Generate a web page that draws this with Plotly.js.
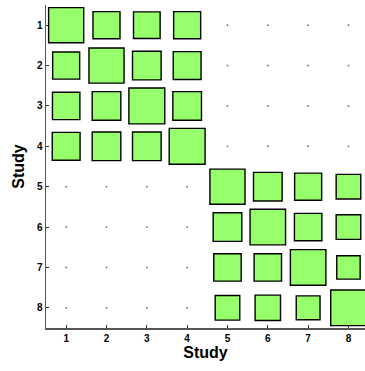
<!DOCTYPE html>
<html>
<head>
<meta charset="utf-8">
<script src="https://cdn.plot.ly/plotly-3.0.1.min.js"></script>
<style>
  html, body { margin: 0; padding: 0; background: #fff; }
  #chart { width: 365px; height: 371px; }
</style>
</head>
<body>
<div id="chart"></div>
<script>
// Study labels on both axes
const studies = [1, 2, 3, 4, 5, 6, 7, 8];
const tickLabels = ['1', '2', '3', '4', '5', '6', '7', '8'];

// Weight matrix: square side as a fraction of one cell (0 = no link, drawn as a dot)
const row1 = [0.87, 0.67, 0.66, 0.67, 0, 0, 0, 0];
const row2 = [0.67, 0.87, 0.71, 0.69, 0, 0, 0, 0];
const row3 = [0.68, 0.71, 0.89, 0.71, 0, 0, 0, 0];
const row4 = [0.69, 0.71, 0.71, 0.89, 0, 0, 0, 0];
const row5 = [0, 0, 0, 0, 0.87, 0.71, 0.67, 0.61];
const row6 = [0, 0, 0, 0, 0.71, 0.88, 0.68, 0.61];
const row7 = [0, 0, 0, 0, 0.68, 0.68, 0.88, 0.58];
const row8 = [0, 0, 0, 0, 0.61, 0.63, 0.59, 0.88];
const weights = [row1, row2, row3, row4, row5, row6, row7, row8];

const fillColor = '#96ff6b';

const shapes = [];
const dotX = [], dotY = [];
weights.forEach((row, i) => {
  row.forEach((w, j) => {
    const cx = studies[j], cy = studies[i];
    if (w > 0) {
      shapes.push({
        type: 'rect', xref: 'x', yref: 'y',
        x0: cx - w / 2, x1: cx + w / 2,
        y0: cy - w / 2, y1: cy + w / 2,
        fillcolor: fillColor,
        line: { color: '#000', width: 1.4 }
      });
    } else {
      dotX.push(cx);
      dotY.push(cy);
    }
  });
});

const dots = {
  type: 'scatter', mode: 'markers',
  x: dotX, y: dotY,
  marker: { symbol: 'square', size: 1.5, color: '#3d7a2a', line: { width: 0 } },
  hoverinfo: 'skip', showlegend: false
};

const tickFont = { family: 'Liberation Sans, Arial, sans-serif', size: 10, color: '#000' };
const titleFont = { family: 'Liberation Sans, Arial, sans-serif', size: 16, color: '#000' };

const axisCommon = {
  tickvals: studies,
  ticktext: tickLabels.map(t => '<b>' + t + '</b>'),
  ticks: 'inside', ticklen: 3, tickwidth: 1, tickcolor: '#333',
  showline: true, linecolor: '#555', linewidth: 1.5,
  showgrid: false, zeroline: false,
  tickfont: tickFont, fixedrange: true
};

const layout = {
  width: 365, height: 371,
  margin: { l: 46, r: 0, t: 5, b: 43 },
  paper_bgcolor: '#fff', plot_bgcolor: '#fff',
  showlegend: false,
  xaxis: Object.assign({}, axisCommon, {
    range: [0.5, 8.41],
    title: { text: '<b>Study</b>', font: titleFont, standoff: 4 }
  }),
  yaxis: Object.assign({}, axisCommon, {
    range: [8.5, 0.5],
    title: { text: '<b>Study</b>', font: titleFont, standoff: 8 }
  }),
  shapes: shapes
};

Plotly.newPlot('chart', [dots], layout, { displayModeBar: false, staticPlot: true });
</script>
</body>
</html>
